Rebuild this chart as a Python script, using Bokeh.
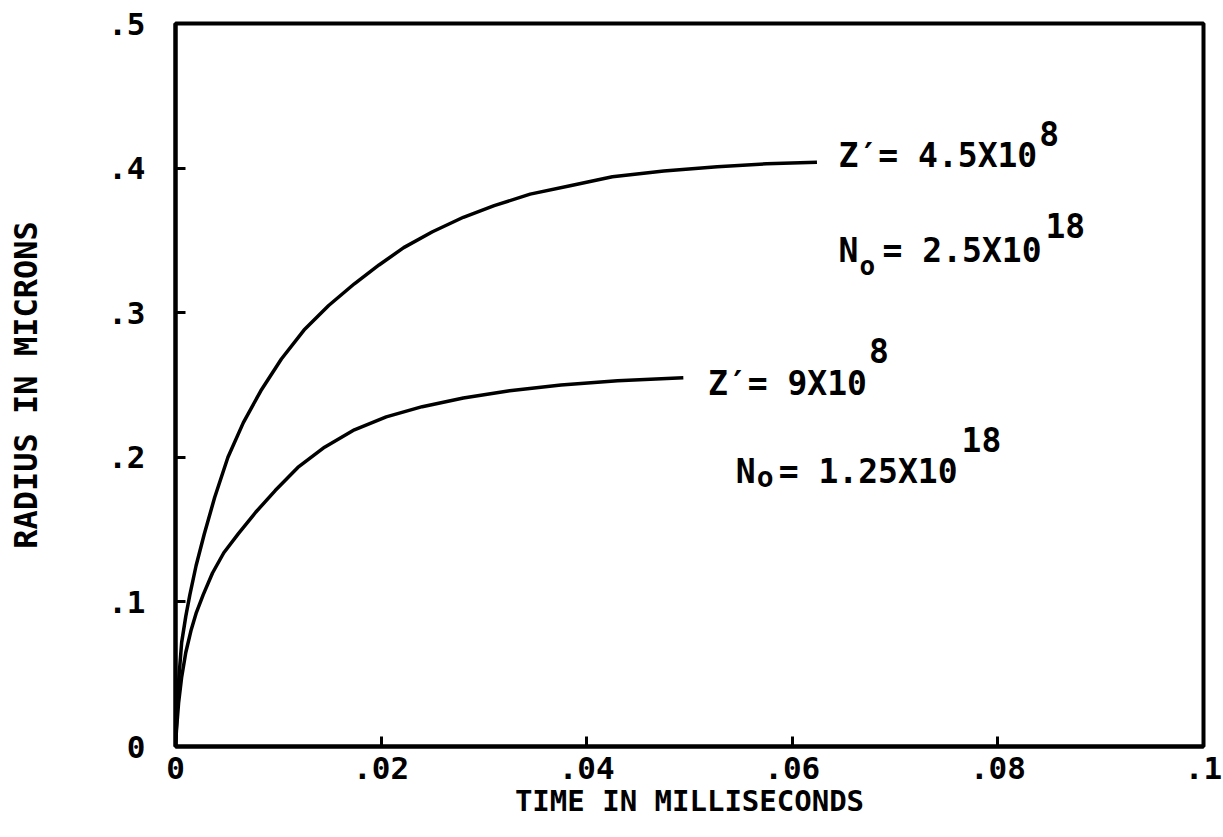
from bokeh.plotting import figure
from bokeh.models import Range1d, FixedTicker
from bokeh.core.properties import value
from bokeh.embed import file_html
from bokeh.resources import INLINE

# ---- data ----
t_upper = [0, 0.0001, 0.0003, 0.0006, 0.0010, 0.0014, 0.0020, 0.0028, 0.0038, 0.0051, 0.0066,
           0.0083, 0.0103, 0.0125, 0.0149, 0.0174, 0.0198, 0.0222, 0.0250, 0.0280, 0.0310,
           0.0345, 0.0385, 0.0425, 0.0475, 0.0527, 0.0575, 0.0624]
r_upper = [0.0, 0.015, 0.045, 0.072, 0.090, 0.105, 0.125, 0.147, 0.172, 0.200, 0.224,
           0.246, 0.268, 0.288, 0.305, 0.320, 0.333, 0.345, 0.356, 0.366, 0.374,
           0.382, 0.388, 0.394, 0.398, 0.401, 0.403, 0.404]
t_lower = [0, 0.0001, 0.0003, 0.0006, 0.0010, 0.0015, 0.0020, 0.0027, 0.0036, 0.0047, 0.0061,
           0.0078, 0.0097, 0.0119, 0.0145, 0.0174, 0.0205, 0.0240, 0.0280, 0.0325, 0.0375,
           0.0430, 0.0494]
r_lower = [0.0, 0.012, 0.030, 0.048, 0.065, 0.080, 0.092, 0.105, 0.120, 0.134, 0.147,
           0.162, 0.177, 0.193, 0.207, 0.219, 0.228, 0.235, 0.241, 0.246, 0.250,
           0.253, 0.255]

x_ticks = [0, 0.02, 0.04, 0.06, 0.08, 0.1]
x_tick_labels = ["0", ".02", ".04", ".06", ".08", ".1"]
y_ticks = [0, 0.1, 0.2, 0.3, 0.4, 0.5]
y_tick_labels = ["0", ".1", ".2", ".3", ".4", ".5"]

x_title = "TIME IN MILLISECONDS"
y_title = "RADIUS IN MICRONS"

FONT = "DejaVu Sans Mono"
FS = 33
ADV = 0.602 * FS

p = figure(width=1223, height=837, x_range=Range1d(0, 0.1), y_range=Range1d(0, 0.5),
           output_backend="svg", toolbar_location=None,
           min_border_left=175, min_border_right=20, min_border_top=23, min_border_bottom=91)
p.background_fill_color = "white"
p.border_fill_color = "white"
p.grid.visible = False
p.outline_line_color = "black"
p.outline_line_width = 4

for ax, ticks, labels in ((p.xaxis[0], x_ticks, x_tick_labels), (p.yaxis[0], y_ticks, y_tick_labels)):
    ax.ticker = FixedTicker(ticks=ticks)
    ax.major_label_overrides = dict(zip(ticks, labels))
    ax.major_tick_in = 10
    ax.major_tick_out = 0
    ax.minor_tick_in = 0
    ax.minor_tick_out = 0
    ax.axis_line_width = 4
    ax.major_tick_line_width = 3
    ax.axis_line_color = "black"
    ax.major_tick_line_color = "black"
    ax.major_label_text_font = FONT
    ax.major_label_text_font_style = "bold"
    ax.major_label_text_font_size = "31px"
    ax.major_label_text_color = "black"
    ax.axis_label_text_font = FONT
    ax.axis_label_text_font_style = "bold"
    ax.axis_label_text_color = "black"

p.xaxis.axis_label = x_title
p.xaxis.axis_label_text_font_size = "29px"
p.xaxis.major_label_standoff = 10
p.xaxis.axis_label_standoff = 2
p.yaxis.axis_label = y_title
p.yaxis.axis_label_text_font_size = "32px"
p.yaxis.major_label_standoff = 30
p.yaxis.axis_label_standoff = 60

p.line(t_upper, r_upper, line_color="black", line_width=3.5, line_join="round")
p.line(t_lower, r_lower, line_color="black", line_width=3.5, line_join="round")

# ---- annotations ----
def piece(x, y, txt, size=FS, dx=0, dy=0):
    p.text(x=[x], y=[y], text=[txt], text_font=value(FONT), text_font_style="bold",
           text_font_size=f"{size}px", text_color="black", text_baseline="alphabetic",
           text_align="left", x_offset=dx, y_offset=dy)

# Z' = 4.5x10^8
ax_, ay_ = 0.0645, 0.409
s1 = "Z′= 4.5X10"
piece(ax_, ay_, s1)
piece(ax_, ay_, "8", dx=len(s1) * ADV + 2, dy=-22)

# N_o = 2.5x10^18
bx, by = 0.0645, 0.343
s2 = "= 2.5X10"
piece(bx, by, "N")
piece(bx, by, "o", size=26, dx=ADV + 1, dy=15)
piece(bx, by, s2, dx=44)
piece(bx, by, "18", dx=44 + len(s2) * ADV + 4, dy=-25)

# Z' = 9x10^8
cx, cy = 0.0518, 0.251
s3 = "Z′= 9X10"
piece(cx, cy, s3)
piece(cx, cy, "8", dx=len(s3) * ADV + 2, dy=-33)

# N_o = 1.25x10^18
dx_, dy_ = 0.0545, 0.190
s4 = "= 1.25X10"
piece(dx_, dy_, "N")
piece(dx_, dy_, "o", size=28, dx=ADV + 1, dy=6)
piece(dx_, dy_, s4, dx=43)
piece(dx_, dy_, "18", dx=43 + len(s4) * ADV + 4, dy=-32)

open("out.html", "w").write(file_html(p, INLINE))
